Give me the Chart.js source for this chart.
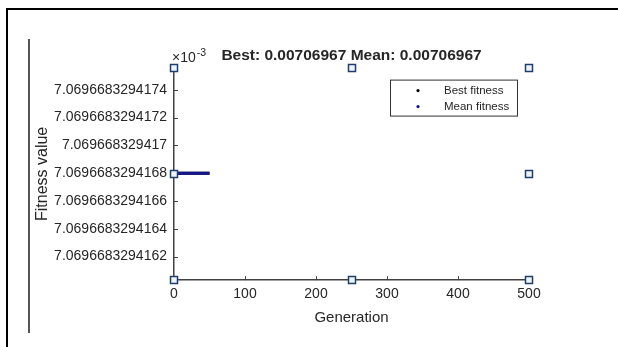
<!DOCTYPE html>
<html>
<head>
<meta charset="utf-8">
<script src="https://cdn.jsdelivr.net/npm/chart.js@4"></script>
<style>
  body { margin: 0; background: #fff; }
  #wrap { position: relative; width: 618px; height: 347px; }
  #frame { position: absolute; left: 6px; top: 8px; width: 620px; height: 345px;
           border-top: 2px solid #000; border-left: 2px solid #000; }
  #edge { position: absolute; left: 28px; top: 39px; width: 2px; height: 294px; background: #555; }
</style>
</head>
<body>
<div id="wrap">
  <canvas id="gaChart"></canvas>
  <div id="frame"></div>
  <div id="edge"></div>
</div>
<script>
// values in units of 10^-3
const generations = [0, 10, 20, 30, 40, 50];
const bestFitness = [7.0696683294168, 7.0696683294168, 7.0696683294168, 7.0696683294168, 7.0696683294168, 7.0696683294168];
const meanFitness = [7.0696683294168, 7.0696683294168, 7.0696683294168, 7.0696683294168, 7.0696683294168, 7.0696683294168];

const xTicks = [0, 100, 200, 300, 400, 500];
const yTicks = [7.0696683294162, 7.0696683294164, 7.0696683294166, 7.0696683294168, 7.069668329417, 7.0696683294172, 7.0696683294174];
const yTickLabels = ['7.0696683294162', '7.0696683294164', '7.0696683294166', '7.0696683294168', '7.069668329417', '7.0696683294172', '7.0696683294174'];
const yMin = 7.06966832941603;
const yMax = 7.06966832941756;

const titleText = 'Best: 0.00706967 Mean: 0.00706967';

const axisColor = '#404040';
const textColor = '#262626';

// inward tick marks, the x10^-3 exponent, selection handles and the legend box
const extras = {
    id: 'extras',
    afterDraw(chart) {
        const ctx = chart.ctx;
        const area = chart.chartArea;
        const xs = chart.scales.x, ys = chart.scales.y;
        ctx.save();
        ctx.strokeStyle = axisColor;
        ctx.lineWidth = 1;
        ys.ticks.forEach(t => {
            const y = Math.round(ys.getPixelForValue(t.value)) + 0.5;
            ctx.beginPath(); ctx.moveTo(area.left, y); ctx.lineTo(area.left + 4, y); ctx.stroke();
        });
        xs.ticks.forEach(t => {
            const x = Math.round(xs.getPixelForValue(t.value)) + 0.5;
            ctx.beginPath(); ctx.moveTo(x, area.bottom); ctx.lineTo(x, area.bottom - 4); ctx.stroke();
        });

        // exponent
        ctx.fillStyle = textColor;
        ctx.textBaseline = 'alphabetic';
        ctx.textAlign = 'left';
        ctx.font = '14px "Liberation Sans", Arial, sans-serif';
        ctx.fillText('\u00d710', area.left - 2, 62);
        const w = ctx.measureText('\u00d710').width;
        ctx.font = '10.5px "Liberation Sans", Arial, sans-serif';
        ctx.fillText('-3', area.left - 2 + w + 1, 56);

        // selection handles
        const midX = (area.left + area.right) / 2, midY = (area.top + area.bottom) / 2;
        const handles = [[area.left, area.top], [midX, area.top], [area.right, area.top],
                         [area.left, midY], [area.right, midY],
                         [area.left, area.bottom], [midX, area.bottom], [area.right, area.bottom]];
        ctx.lineWidth = 1.5;
        ctx.strokeStyle = '#1f3f6a';
        ctx.fillStyle = '#eef4fb';
        handles.forEach(([hx, hy]) => {
            const x = Math.round(hx) - 3.5, y = Math.round(hy) - 3.5;
            ctx.fillRect(x, y, 7, 7);
            ctx.strokeRect(x, y, 7, 7);
        });

        // legend
        const bw = 127, bh = 36;
        const bx = area.right - 12 - bw, by = area.top + 12;
        ctx.fillStyle = '#fff';
        ctx.fillRect(bx, by, bw, bh);
        ctx.strokeStyle = '#333';
        ctx.lineWidth = 1;
        ctx.strokeRect(bx + 0.5, by + 0.5, bw, bh);
        ctx.font = '11.5px "Liberation Sans", Arial, sans-serif';
        ctx.textBaseline = 'middle';
        chart.data.datasets.forEach((ds, i) => {
            const cy = by + 11 + i * 16;
            ctx.fillStyle = ds.borderColor;
            ctx.beginPath(); ctx.arc(bx + 28, cy, 1.6, 0, Math.PI * 2); ctx.fill();
            ctx.fillStyle = textColor;
            ctx.fillText(ds.label, bx + 54, cy);
        });
        ctx.restore();
    }
};

new Chart(document.getElementById('gaChart'), {
    type: 'scatter',
    data: {
        datasets: [
            {
                label: 'Best fitness',
                data: generations.map((g, i) => ({ x: g, y: bestFitness[i] })),
                borderColor: '#000000',
                backgroundColor: '#000000',
                showLine: true,
                borderWidth: 3,
                pointRadius: 0,
                order: 2
            },
            {
                label: 'Mean fitness',
                data: generations.map((g, i) => ({ x: g, y: meanFitness[i] })),
                borderColor: '#14148c',
                backgroundColor: '#14148c',
                showLine: true,
                borderWidth: 3,
                pointRadius: 0,
                order: 1
            }
        ]
    },
    options: {
        responsive: true,
        maintainAspectRatio: false,
        animation: false,
        layout: { padding: { left: 33, right: 89, top: 0, bottom: 20 } },
        plugins: {
            legend: { display: false },
            tooltip: { enabled: false },
            title: {
                display: true,
                text: titleText,
                fullSize: false,
                color: textColor,
                font: { family: '"Liberation Sans", Arial, sans-serif', size: 15.5, weight: 'bold' },
                padding: { top: 46, bottom: 3 }
            }
        },
        scales: {
            x: {
                type: 'linear',
                min: 0,
                max: 500,
                afterBuildTicks: s => { s.ticks = xTicks.map(v => ({ value: v })); },
                grid: { display: false, drawTicks: false },
                border: { display: true, color: axisColor, width: 1.5 },
                ticks: {
                    color: textColor,
                    padding: 6,
                    maxRotation: 0,
                    font: { family: '"Liberation Sans", Arial, sans-serif', size: 14 }
                },
                title: {
                    display: true,
                    text: 'Generation',
                    color: textColor,
                    padding: { top: 0, bottom: 0 },
                    font: { family: '"Liberation Sans", Arial, sans-serif', size: 15 }
                }
            },
            y: {
                type: 'linear',
                min: yMin,
                max: yMax,
                afterBuildTicks: s => { s.ticks = yTicks.map(v => ({ value: v })); },
                afterFit: s => { s.width = 141; },
                grid: { display: false, drawTicks: false },
                border: { display: true, color: axisColor, width: 1.5 },
                ticks: {
                    color: textColor,
                    padding: 7,
                    font: { family: '"Liberation Sans", Arial, sans-serif', size: 14 },
                    callback: (v, i) => yTickLabels[i]
                },
                title: {
                    display: true,
                    text: 'Fitness value',
                    color: textColor,
                    padding: { top: 0, bottom: 0 },
                    font: { family: '"Liberation Sans", Arial, sans-serif', size: 16 }
                }
            }
        }
    },
    plugins: [extras]
});
</script>
</body>
</html>
